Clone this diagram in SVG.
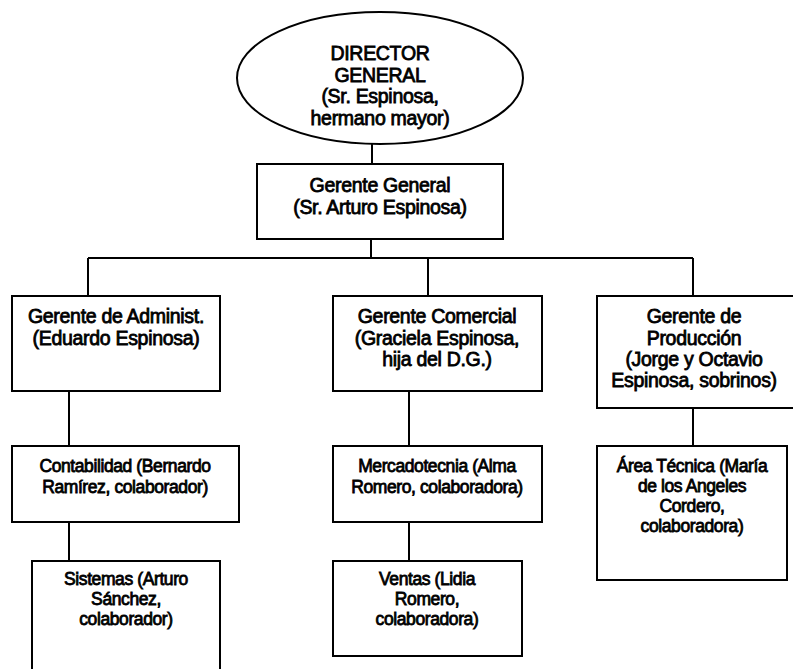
<svg xmlns="http://www.w3.org/2000/svg" width="793" height="669" viewBox="0 0 793 669">
<style>
.box{fill:#fff;stroke:#000;stroke-width:2}
.ln{fill:none;stroke:#000;stroke-width:2}
text{font-family:"Liberation Sans",Arial,sans-serif;fill:#000;stroke:#000;stroke-width:0.8;text-anchor:middle}
.t1{font-size:19.5px;letter-spacing:-0.3px}
.t2{font-size:17.5px;letter-spacing:-0.4px}
</style>
<rect width="793" height="669" fill="#fff"/>
<g id="connectors">
<path class="ln" d="M372 144V164"/>
<path class="ln" d="M371 239V258"/>
<path class="ln" d="M88 258H693"/>
<path class="ln" d="M88 258V296"/>
<path class="ln" d="M428 258V296"/>
<path class="ln" d="M693 258V296"/>
<path class="ln" d="M69 391V446"/>
<path class="ln" d="M69 522V561"/>
<path class="ln" d="M409 391V446"/>
<path class="ln" d="M409 522V561"/>
<path class="ln" d="M693 408V446"/>
</g>
<g id="director">
<ellipse class="box" cx="380" cy="78" rx="143" ry="66"/>
<text class="t1" x="380" y="60">DIRECTOR</text>
<text class="t1" x="380" y="82">GENERAL</text>
<text class="t1" x="380" y="103">(Sr. Espinosa,</text>
<text class="t1" x="380" y="125">hermano mayor)</text>
</g>
<g id="gerente-general">
<rect class="box" x="257" y="164" width="246" height="75"/>
<text class="t1" x="380" y="192">Gerente General</text>
<text class="t1" x="380" y="214">(Sr. Arturo Espinosa)</text>
</g>
<g id="gerente-admin">
<rect class="box" x="12" y="296" width="208" height="95"/>
<text class="t1" x="116" y="323">Gerente de Administ.</text>
<text class="t1" x="116" y="345">(Eduardo Espinosa)</text>
</g>
<g id="gerente-comercial">
<rect class="box" x="333" y="296" width="209" height="95"/>
<text class="t1" x="437" y="323">Gerente Comercial</text>
<text class="t1" x="437" y="345">(Graciela Espinosa,</text>
<text class="t1" x="437" y="366">hija del D.G.)</text>
</g>
<g id="gerente-produccion">
<rect class="box" x="597" y="296" width="198" height="112"/>
<text class="t1" x="694" y="323">Gerente de</text>
<text class="t1" x="694" y="345">Producción</text>
<text class="t1" x="694" y="366">(Jorge y Octavio</text>
<text class="t1" x="694" y="387">Espinosa, sobrinos)</text>
</g>
<g id="contabilidad">
<rect class="box" x="12" y="446" width="227" height="76"/>
<text class="t2" x="125" y="472">Contabilidad (Bernardo</text>
<text class="t2" x="125" y="493">Ramírez, colaborador)</text>
</g>
<g id="sistemas">
<rect class="box" x="32" y="561" width="188" height="115"/>
<text class="t2" x="126" y="585">Sistemas (Arturo</text>
<text class="t2" x="126" y="605">Sánchez,</text>
<text class="t2" x="126" y="625">colaborador)</text>
</g>
<g id="mercadotecnia">
<rect class="box" x="333" y="446" width="209" height="76"/>
<text class="t2" x="437" y="472">Mercadotecnia (Alma</text>
<text class="t2" x="437" y="493">Romero, colaboradora)</text>
</g>
<g id="ventas">
<rect class="box" x="333" y="561" width="189" height="95"/>
<text class="t2" x="427" y="585">Ventas (Lidia</text>
<text class="t2" x="427" y="605">Romero,</text>
<text class="t2" x="427" y="625">colaboradora)</text>
</g>
<g id="area-tecnica">
<rect class="box" x="597" y="446" width="190" height="134"/>
<text class="t2" x="692" y="472">Área Técnica (María</text>
<text class="t2" x="692" y="492">de los Angeles</text>
<text class="t2" x="692" y="512">Cordero,</text>
<text class="t2" x="692" y="532">colaboradora)</text>
</g>
</svg>
